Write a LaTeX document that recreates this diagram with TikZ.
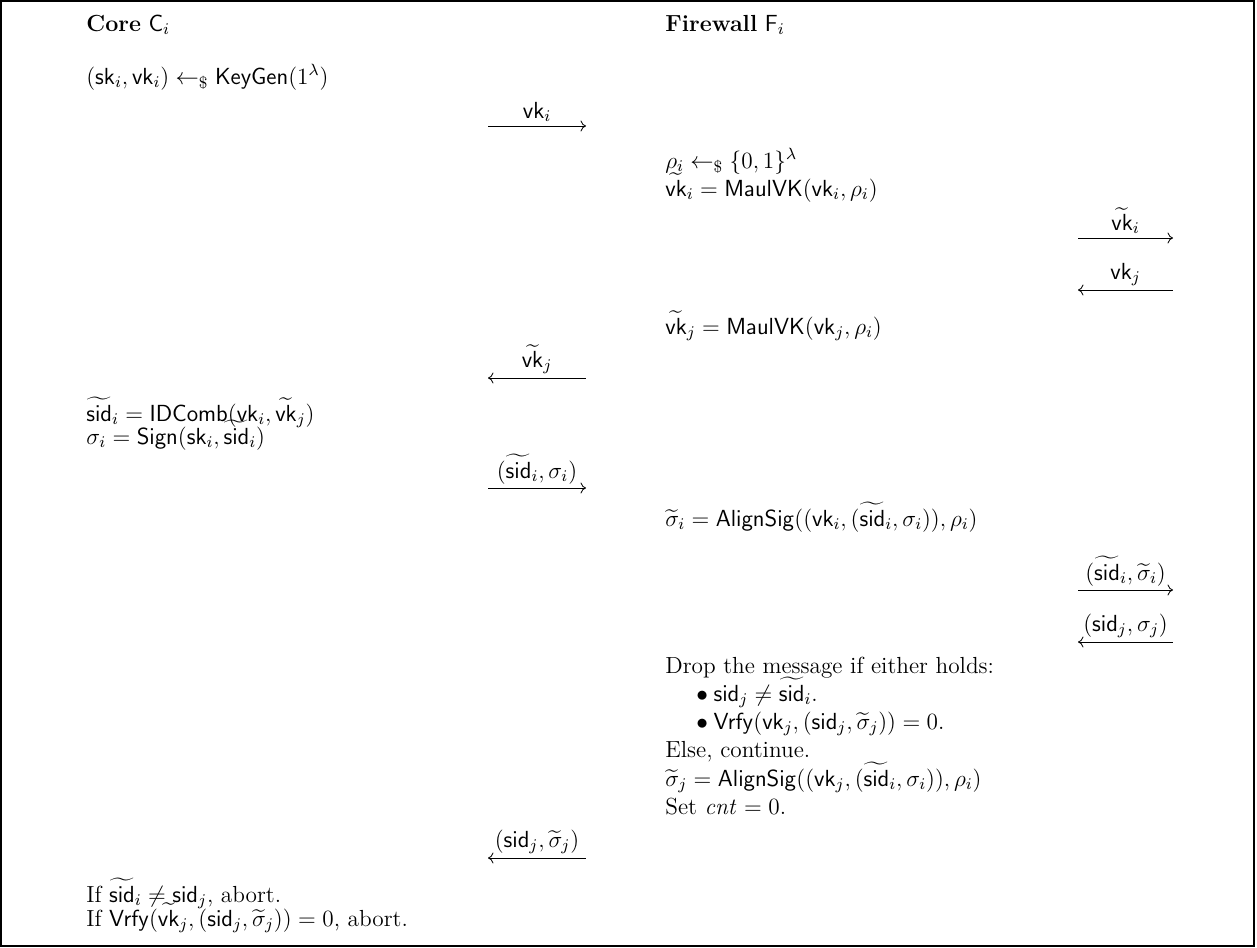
\RequirePackage{fix-cm}
\documentclass[tikz,border=0pt]{standalone}
\usepackage{amsmath,amssymb}
\usetikzlibrary{arrows.meta}

% protocol notation
\newcommand{\Ssk}{\mathsf{sk}}
\newcommand{\Svk}{\mathsf{vk}}
\newcommand{\Ssid}{\mathsf{sid}}
\newcommand{\Tvk}{\widetilde{\mathsf{vk}}}
\newcommand{\Tsid}{\widetilde{\mathsf{sid}}}
\newcommand{\Fn}[1]{\mathsf{#1}}
\newcommand{\smp}{\mathrel{\leftarrow_{\$}}}

\tikzset{
  txt/.style={font=\fontsize{12.7}{15}\selectfont},
  line/.style={txt, anchor=base west, inner sep=0pt},
  msg/.style={-{To[length=3pt,width=6pt]}, line width=0.45pt},
  rmsg/.style={{To[length=3pt,width=6pt]}-, line width=0.45pt},
  lbl/.style={txt, above, inner sep=2pt},
  frame/.style={line width=0.6pt},
}

\begin{document}
\begin{tikzpicture}[x=0.5455pt, y=-0.5455pt]
\useasboundingbox (0,0) rectangle (1257,947);
\draw[frame] (1,1) rectangle (1254,946);

% party headings
\node[line] (hC) at (86,31) {\textbf{Core} $\mathsf{C}_i$};
\node[line] (hF) at (665,31) {\textbf{Firewall} $\mathsf{F}_i$};

% core: key generation
\node[line] (c1) at (86,84) {$(\Ssk_i,\Svk_i) \smp \Fn{KeyGen}(1^\lambda)$};

% firewall: randomness and key mauling
\node[line] (f1) at (665,168) {$\rho_i \smp \{0,1\}^\lambda$};
\node[line] (f2) at (665,196) {$\Tvk_i = \Fn{MaulVK}(\Svk_i,\rho_i)$};
\node[line] (f3) at (665,334) {$\Tvk_j = \Fn{MaulVK}(\Svk_j,\rho_i)$};

% core: session id and signature
\node[line] (c2) at (86,421) {$\Tsid_i = \Fn{IDComb}(\Svk_i,\Tvk_j)$};
\node[line] (c3) at (86,444) {$\sigma_i = \Fn{Sign}(\Ssk_i,\Tsid_i)$};

% firewall: signature alignment
\node[line] (f4) at (665,526) {$\widetilde{\sigma}_i = \Fn{AlignSig}((\Svk_i,(\Tsid_i,\sigma_i)),\rho_i)$};

% firewall: filtering
\node[line] (f5) at (665,673) {Drop the message if either holds:};
\node[line] (f6) at (696,701) {$\bullet$\hspace{3pt}$\Ssid_j \neq \Tsid_i$.};
\node[line] (f7) at (696,729) {$\bullet$\hspace{3pt}$\Fn{Vrfy}(\Svk_j,(\Ssid_j,\widetilde{\sigma}_j)) = 0$.};
\node[line] (f8) at (665,757) {Else, continue.};
\node[line] (f9) at (665,786) {$\widetilde{\sigma}_j = \Fn{AlignSig}((\Svk_j,(\Tsid_i,\sigma_i)),\rho_i)$};
\node[line] (f10) at (665,814) {Set $\mathit{cnt} = 0$.};

% core: final checks
\node[line] (c4) at (86,902) {If $\Tsid_i \neq \Ssid_j$, abort.};
\node[line] (c5) at (86,926) {If $\Fn{Vrfy}(\Tvk_j,(\Ssid_j,\widetilde{\sigma}_j)) = 0$, abort.};

% message end points
\coordinate (m1a) at (488,126);  \coordinate (m1b) at (586,126);
\coordinate (m2a) at (1078,238); \coordinate (m2b) at (1173,238);
\coordinate (m3a) at (1078,290); \coordinate (m3b) at (1173,290);
\coordinate (m4a) at (488,378);  \coordinate (m4b) at (586,378);
\coordinate (m5a) at (488,488);  \coordinate (m5b) at (586,488);
\coordinate (m6a) at (1078,590); \coordinate (m6b) at (1173,590);
\coordinate (m7a) at (1078,642); \coordinate (m7b) at (1173,642);
\coordinate (m8a) at (488,858);  \coordinate (m8b) at (586,858);

% messages
\draw[msg]  (m1a) -- node[lbl] {$\Svk_i$} (m1b);
\draw[msg]  (m2a) -- node[lbl] {$\Tvk_i$} (m2b);
\draw[rmsg] (m3a) -- node[lbl] {$\Svk_j$} (m3b);
\draw[rmsg] (m4a) -- node[lbl] {$\Tvk_j$} (m4b);
\draw[msg]  (m5a) -- node[lbl] {$(\Tsid_i,\sigma_i)$} (m5b);
\draw[msg]  (m6a) -- node[lbl] {$(\Tsid_i,\widetilde{\sigma}_i)$} (m6b);
\draw[rmsg] (m7a) -- node[lbl] {$(\Ssid_j,\sigma_j)$} (m7b);
\draw[rmsg] (m8a) -- node[lbl] {$(\Ssid_j,\widetilde{\sigma}_j)$} (m8b);
\end{tikzpicture}
\end{document}
